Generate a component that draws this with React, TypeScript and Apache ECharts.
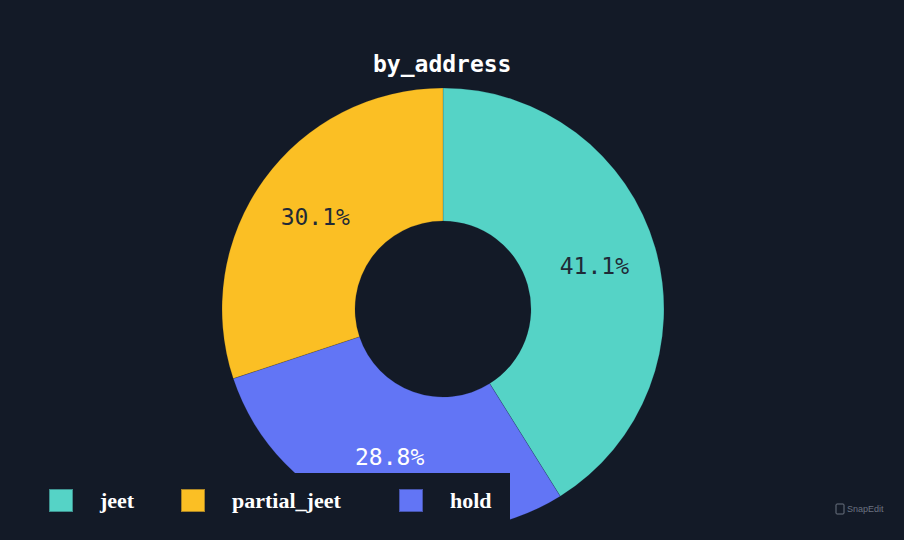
import React, { useEffect, useRef } from "react";
import * as echarts from "echarts";

const titleText = "by_address";
// clockwise order from 12 o'clock
const sliceNames = ["jeet", "hold", "partial_jeet"];
const sliceValues = [41.1, 28.8, 30.1];
const sliceColors = ["#55d3c6", "#fbbf24", "#6275f5"];
const legendOrder = ["jeet", "partial_jeet", "hold"];
const legendLefts = [48, 180, 398];
const labelColors = ["#1f2a37", "#ffffff", "#1f2a37"];

const BG = "#131a27";

export default function App() {
  const ref = useRef<HTMLDivElement>(null);
  useEffect(() => {
    document.body.style.margin = "0";
    const chart = echarts.init(ref.current!, null, { renderer: "svg" });
    const colorFor = (n: string) => sliceColors[legendOrder.indexOf(n)];
    chart.setOption({
      animation: false,
      backgroundColor: BG,
      title: {
        text: titleText,
        left: 373,
        top: 52,
        padding: 0,
        textStyle: {
          color: "#ffffff",
          fontFamily: "DejaVu Sans Mono",
          fontWeight: "bold",
          fontSize: 23,
        },
      },
      legend: legendOrder.map((n, i) => ({
        data: [n],
        left: legendLefts[i],
        top: 488,
        padding: 0,
        itemWidth: 24,
        itemHeight: 23,
        icon: "rect",
        selectedMode: false,
        textStyle: {
          color: "#ffffff",
          fontFamily: "Liberation Serif",
          fontWeight: "bold",
          fontSize: 22,
          padding: [0, 0, 0, 22],
        },
      })),
      graphic: {
        elements: [
          {
            type: "rect",
            z: 3,
            shape: { x: 0, y: 473, width: 510, height: 67 },
            style: { fill: BG },
          },
          {
            type: "rect",
            z: 3,
            shape: { x: 836, y: 504, width: 8, height: 10, r: 1 },
            style: { fill: "none", stroke: "#6b7280", lineWidth: 1 },
          },
          {
            type: "text",
            z: 3,
            x: 847,
            y: 504,
            style: {
              text: "SnapEdit",
              fill: "#6b7280",
              fontSize: 9,
              fontFamily: "Liberation Sans",
            },
          },
        ],
      },
      series: [
        {
          type: "pie",
          center: [443, 309],
          radius: [88, 221],
          startAngle: 90,
          clockwise: true,
          avoidLabelOverlap: false,
          itemStyle: { borderColor: "rgba(19,26,39,0.35)", borderWidth: 0.5 },
          label: {
            show: true,
            position: "inside",
            fontFamily: "DejaVu Sans Mono",
            fontSize: 23,
            formatter: (p: any) => p.value.toFixed(1) + "%",
          },
          labelLine: { show: false },
          data: sliceNames.map((n, i) => ({
            name: n,
            value: sliceValues[i],
            itemStyle: { color: colorFor(n) },
            label: { color: labelColors[i] },
          })),
        },
      ],
    });
    return () => chart.dispose();
  }, []);
  return (
    <div
      ref={ref}
      style={{ position: "absolute", left: 0, top: 0, width: 904, height: 540 }}
    />
  );
}
